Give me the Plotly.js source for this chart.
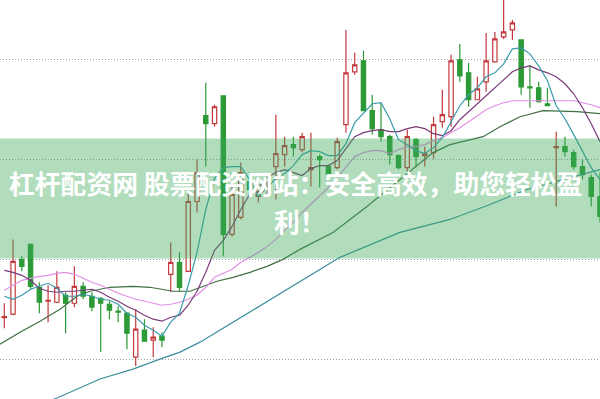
<!DOCTYPE html>
<html><head><meta charset="utf-8">
<script src="https://cdn.plot.ly/plotly-3.0.1.min.js"></script>
<style>html,body{margin:0;padding:0;background:#fff;overflow:hidden}#chart{width:600px;height:399px}</style>
</head><body><div id="chart"></div>
<script>
// candle index (trading day)
const days = [0,1,2,3,4,5,6,7,8,9,10,11,12,13,14,15,16,17,18,19,20,21,22,23,24,25,26,27,28,29,30,31,32,33,34,35,36,37,38,39,40,41,42,43,44,45,46,47,48,49,50,51,52,53,54,55,56,57,58,59,60,61,62,63,64,65,66,67,68];
const opens  = [14.15,14.5,20.0,21.5,17.2,15.8,15.7,16.4,15.6,17.3,16.3,16.1,15.5,14.8,14.6,10.2,12.9,11.9,12.3,18.5,19.7,18.8,25.8,34.4,33.6,36.4,22.5,24.2,27.8,26.3,27.1,29.3,30.5,31.5,31.0,29.0,30.3,29.3,29.2,33.5,38.8,39.9,34.9,33.0,32.3,30.4,29.2,32.0,30.4,30.7,33.8,34.3,40.0,38.7,36.0,37.8,39.8,42.3,43.0,42.0,37.3,37.2,35.6,31.2,31.3,30.7,29.3,28.2,26.3];
const highs  = [15.6,22.0,20.3,21.6,17.7,17.4,18.8,16.7,19.3,17.7,16.7,16.2,15.8,15.3,14.7,15.0,14.0,13.2,12.7,21.7,20.7,26.8,30.0,37.7,35.5,36.4,27.3,29.7,28.7,27.5,27.8,34.5,32.3,32.3,32.7,32.7,30.5,29.5,32.2,43.0,40.7,40.9,36.5,35.7,32.5,30.5,33.0,32.2,31.3,34.3,37.0,40.5,41.6,39.7,38.3,42.7,42.8,46.5,44.0,42.0,39.5,37.8,37.2,32.8,32.3,31.0,30.0,28.5,28.7];
const lows   = [13.1,14.4,18.8,17.0,14.6,13.7,15.6,12.6,15.2,16.0,14.8,10.7,14.0,13.7,11.0,9.3,11.8,10.2,11.2,16.7,16.8,18.8,24.7,29.3,33.3,20.3,22.3,24.0,26.7,25.7,26.3,26.0,29.3,30.3,30.7,27.3,27.2,28.2,29.0,32.7,38.5,34.9,32.5,31.8,29.5,29.0,28.8,29.3,29.3,30.1,33.2,33.3,37.8,35.3,36.0,36.8,39.8,42.1,42.0,36.5,35.2,35.7,35.4,25.3,30.3,29.0,28.0,25.3,23.7];
const closes = [14.25,19.8,19.3,17.3,15.7,15.9,17.2,15.6,17.3,16.3,15.2,15.6,14.9,14.7,12.6,13.0,11.8,12.2,11.9,19.7,17.2,25.8,28.7,33.6,35.3,22.5,26.5,28.7,27.0,26.8,27.2,30.6,31.4,31.2,32.3,29.2,30.0,28.5,31.8,38.7,39.5,34.9,33.1,32.3,30.5,29.2,32.3,30.3,30.6,33.5,34.5,39.9,38.4,36.0,37.1,39.9,42.1,42.8,43.7,37.3,37.2,35.8,35.4,31.3,30.8,29.3,28.5,26.3,24.3];

// moving averages (one value per candle)
const ma5  = [16.3,16.0,16.4,17.0,17.3,17.6,17.1,16.3,16.3,16.5,16.3,16.0,15.9,15.5,14.6,14.2,13.4,12.9,12.3,13.7,14.6,17.4,20.7,25.0,28.1,29.2,29.3,29.3,28.0,26.3,27.2,28.1,28.6,29.4,30.5,30.9,30.8,30.4,30.4,31.6,33.7,34.7,35.6,35.7,34.1,32.0,31.5,30.9,30.6,31.2,32.2,33.8,35.4,36.5,37.2,38.3,38.7,39.6,41.1,41.2,40.6,39.4,37.9,35.4,34.1,32.5,30.8,29.2,28.0];
const ma10 = [18.9,18.7,18.4,17.9,17.1,16.8,16.7,16.8,16.8,16.9,17.0,16.7,16.2,15.8,15.3,14.9,14.4,14.0,13.8,14.2,14.4,15.4,16.8,18.7,20.9,21.9,23.3,25.0,26.5,27.2,28.2,28.7,29.0,28.7,28.4,29.1,29.4,29.4,29.9,31.1,32.3,32.7,32.9,33.0,32.8,32.8,33.1,33.3,33.1,32.6,32.4,32.9,34.0,34.8,35.6,36.3,37.1,38.0,38.8,39.2,39.4,39.0,38.7,38.3,37.6,36.6,35.2,33.6,31.8];
const ma20 = [16.9,17.4,17.9,18.1,18.3,18.4,18.6,18.7,18.5,18.1,17.7,17.4,17.0,16.6,16.3,16.0,15.8,15.6,15.4,15.5,15.7,16.0,16.4,17.2,18.2,18.6,19.0,19.7,20.2,20.7,21.3,22.0,22.9,23.7,24.7,25.5,26.4,27.2,28.2,29.2,30.3,30.7,30.9,30.9,30.6,31.0,31.3,31.3,31.5,31.9,32.2,32.7,33.2,33.8,34.4,35.0,35.4,35.7,35.9,35.9,35.9,35.9,35.9,35.9,35.9,35.9,35.7,35.5,35.2];
// slower averages, read at sample positions
const ma30x = [-0.49,1.79,4.08,6.36,8.30,9.78,12.07,14.69,16.63,19.26,21.20,22.34,24.28,26.11,28.05,29.99,31.81,33.75,37.52,41.40,45.17,48.94,50.88,52.8,54.65,56.59,58.87,61.49,65.38,68.0];
const ma30  = [11.5,12.7,13.8,15.0,16.3,16.8,17.2,17.3,17.2,16.8,16.8,17.2,17.8,18.2,18.7,19.3,20.0,21.0,22.7,25.3,28.0,30.7,31.5,31.9,32.3,33.3,34.3,34.9,34.8,34.6];
const ma60x = [-0.49,6.02,10.92,14.69,17.77,20.06,22.34,26.11,29.99,33.75,38.32,43.23,45.17,50.88,55.44,59.67,63.43,68.0];
const ma60  = [3.9,6.1,8.0,9.0,10.0,10.7,11.7,13.7,15.8,17.8,20.2,22.0,22.7,24.0,25.5,27.0,27.9,29.0];

const bannerLine1 = '杠杆配资网 股票配资网站：安全高效，助您轻松盈';
const bannerLine2 = '利！';

function ln(x, y, color) {
  return {type:'scatter', mode:'lines', x:x, y:y, hoverinfo:'skip',
          line:{color:color, width:1.2}};
}

const traces = [
  ln(ma60x, ma60, '#3b8f9c'),
  ln(ma30x, ma30, '#3f6f42'),
  ln(days, ma20, '#e48fe6'),
  ln(days, ma10, '#7a3a78'),
  ln(days, ma5, '#3a9bab'),
  {type:'candlestick', x:days, open:opens, high:highs, low:lows, close:closes,
   hoverinfo:'skip', whiskerwidth:0,
   increasing:{line:{color:'#c4393d', width:1.2}, fillcolor:'#ffffff'},
   decreasing:{line:{color:'#2c9a36', width:1.2}, fillcolor:'#2c9a36'}}
];

const layout = {
  width:600, height:399,
  margin:{l:0, r:0, t:0, b:0, pad:0},
  paper_bgcolor:'#ffffff', plot_bgcolor:'#ffffff',
  showlegend:false,
  xaxis:{range:[-0.49, 68.0], visible:false, rangeslider:{visible:false}, fixedrange:true},
  yaxis:{range:[6, 46], tick0:0, dtick:10, showgrid:true, gridcolor:'#a0a0a0',
         griddash:'1px,2px', gridwidth:1, zeroline:false, showline:false,
         showticklabels:false, ticks:'', fixedrange:true},
  shapes:[{type:'rect', xref:'paper', yref:'paper', x0:0, x1:1, y0:0.352, y1:0.653,
           fillcolor:'rgba(60,170,90,0.40)', line:{width:0}, layer:'above'}],
  annotations:[
    {xref:'paper', yref:'paper', x:0.4917, y:0.5414, xanchor:'center', yanchor:'middle',
     showarrow:false, text:'<b>'+bannerLine1+'</b>',
     font:{family:'"Noto Sans CJK SC", sans-serif', size:25.8, color:'#ffffff'}},
    {xref:'paper', yref:'paper', x:0.5, y:0.4486, xanchor:'center', yanchor:'middle',
     showarrow:false, text:'<b>'+bannerLine2+'</b>',
     font:{family:'"Noto Sans CJK SC", sans-serif', size:25.8, color:'#ffffff'}}
  ]
};

Plotly.newPlot('chart', traces, layout, {staticPlot:true, displayModeBar:false});
</script>
</body></html>
